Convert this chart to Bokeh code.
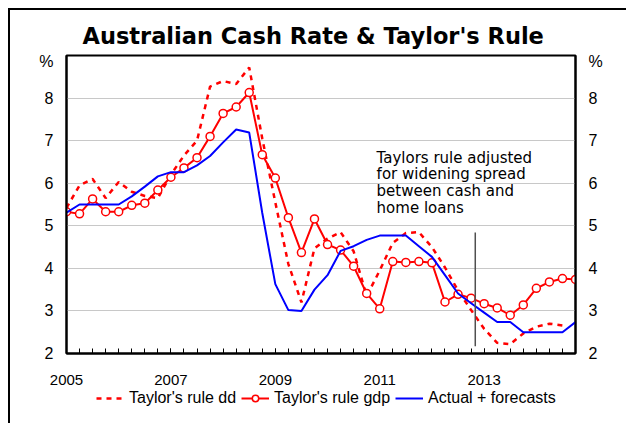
from bokeh.plotting import figure
from bokeh.layouts import column
from bokeh.models import FixedTicker, LinearAxis, Range1d, Label, Legend, LegendItem
from bokeh.embed import file_html
from bokeh.resources import INLINE

title_text = "Australian Cash Rate & Taylor's Rule"
start_year = 2005
quarter_step = 0.25

# quarterly values from 2005 Q1
taylor_dd = [5.42, 5.95, 6.10, 5.65, 6.03, 5.80, 5.70, 5.65, 6.20, 6.65,
             7.00, 8.27, 8.40, 8.33, 8.72, 7.05, 5.55, 4.10, 3.20, 4.47,
             4.70, 4.85, 4.40, 3.35, 3.95, 4.60, 4.83, 4.85, 4.50, 4.02,
             3.48, 3.02, 2.58, 2.25, 2.22, 2.47, 2.63, 2.70, 2.66]
taylor_gdp = [5.33, 5.28, 5.63, 5.33, 5.33, 5.48, 5.53, 5.84, 6.14, 6.36,
              6.60, 7.10, 7.64, 7.79, 8.13, 6.67, 6.12, 5.19, 4.37, 5.16,
              4.56, 4.43, 4.05, 3.41, 3.05, 4.16, 4.14, 4.16, 4.13, 3.21,
              3.39, 3.30, 3.17, 3.07, 2.90, 3.14, 3.53, 3.68, 3.76, 3.74]
actual = [5.31, 5.50, 5.50, 5.50, 5.50, 5.69, 5.92, 6.16, 6.26, 6.26,
          6.42, 6.64, 6.96, 7.26, 7.19, 5.30, 3.63, 3.02, 3.00, 3.50,
          3.84, 4.41, 4.52, 4.67, 4.77, 4.77, 4.77, 4.52, 4.27, 3.84,
          3.41, 3.18, 2.96, 2.74, 2.74, 2.50, 2.50, 2.50, 2.50, 2.74]

x_ticks = [2005, 2007, 2009, 2011, 2013]
y_ticks = [2, 3, 4, 5, 6, 7, 8]
unit_tick = 8.86          # where the "%" unit label sits on each y axis
unit_text = "%"
series_names = ["Taylor's rule dd", "Taylor's rule gdp", "Actual + forecasts"]
note_lines = ["Taylors rule adjusted", "for widening spread",
              "between cash and", "home loans"]
marker_x = 2012.83
marker_y = [2.17, 4.84]

x_all = [start_year + i * quarter_step for i in range(len(actual))]
x_dd = x_all[:len(taylor_dd)]

DD_STYLE = dict(line_color="#ff0000", line_width=2.5, line_dash="5 5")
GDP_STYLE = dict(line_color="#ff0000", line_width=2)
PT_STYLE = dict(marker="circle", size=8, fill_color="white",
                line_color="#ff0000", line_width=1.5)
ACT_STYLE = dict(line_color="#0000ff", line_width=2)

p = figure(frame_width=509, frame_height=298, output_backend="svg",
           toolbar_location=None,
           x_range=Range1d(2005, 2014.75), y_range=Range1d(2, 9),
           min_border_left=56, min_border_right=51, min_border_top=45,
           min_border_bottom=36)

p.title.text = title_text
p.title.text_font = "DejaVu Sans"
p.title.text_font_size = "22.5px"
p.title.text_font_style = "bold"
p.title.text_color = "black"
p.title.align = "left"
p.title.offset = 16
p.title.standoff = 13

p.outline_line_color = "black"
p.outline_line_width = 2
p.background_fill_color = "white"
p.border_fill_color = "white"

p.xgrid.visible = False
p.ygrid.ticker = FixedTicker(ticks=y_ticks)
p.ygrid.grid_line_color = "#c8c8c8"
p.ygrid.grid_line_width = 1

xa = p.xaxis[0]
xa.ticker = FixedTicker(ticks=x_ticks, minor_ticks=x_all)
xa.axis_line_color = "black"
xa.axis_line_width = 2
xa.major_tick_in = 5
xa.major_tick_out = 0
xa.minor_tick_in = 5
xa.minor_tick_out = 0
xa.major_tick_line_color = "black"
xa.minor_tick_line_color = "black"
xa.major_label_text_font = "Liberation Sans"
xa.major_label_text_font_size = "15px"
xa.major_label_text_color = "black"
xa.major_label_standoff = 21


def style_y(ax):
    ax.ticker = FixedTicker(ticks=y_ticks + [unit_tick])
    ax.major_label_overrides = {unit_tick: unit_text}
    ax.axis_line_color = "black"
    ax.axis_line_width = 2
    ax.major_tick_in = 0
    ax.major_tick_out = 0
    ax.minor_tick_line_color = None
    ax.major_label_text_font = "Liberation Sans"
    ax.major_label_text_font_size = "16px"
    ax.major_label_text_color = "black"
    ax.major_label_standoff = 13


style_y(p.yaxis[0])
right_axis = LinearAxis()
style_y(right_axis)
p.add_layout(right_axis, "right")

p.line(x_dd, taylor_dd, **DD_STYLE)
p.line(x_all, taylor_gdp, **GDP_STYLE)
p.scatter(x_all, taylor_gdp, **PT_STYLE)
p.line(x_all, actual, **ACT_STYLE)
p.segment(x0=[marker_x], y0=[marker_y[0]], x1=[marker_x], y1=[marker_y[1]],
          line_color="#505050", line_width=1.5)

note_top = 6.60
note_step = 0.393
for k, line in enumerate(note_lines):
    p.add_layout(Label(x=2010.94, y=note_top - k * note_step, text=line,
                       text_font="DejaVu Sans", text_font_size="15px",
                       text_color="black", text_baseline="alphabetic",
                       text_align="left"))

# legend strip below the chart; its proxies use the same series and styles,
# with ranges that keep the data itself out of view
q = figure(width=616, height=34, output_backend="svg",
           toolbar_location=None, x_axis_type=None, y_axis_type=None,
           x_range=Range1d(0, 1), y_range=Range1d(0, 1),
           min_border=0, min_border_left=0, min_border_right=0,
           min_border_top=0, min_border_bottom=0, title=None)
q.align = "start"
q.outline_line_color = None
q.background_fill_color = "white"
q.border_fill_color = "white"
l_dd = q.line(x_dd, taylor_dd, **DD_STYLE)
l_gdp = q.line(x_all, taylor_gdp, **GDP_STYLE)
l_pts = q.scatter(x_all, taylor_gdp, **PT_STYLE)
l_act = q.line(x_all, actual, **ACT_STYLE)

legend = Legend(items=[
    LegendItem(label=series_names[0], renderers=[l_dd]),
    LegendItem(label=series_names[1], renderers=[l_gdp, l_pts]),
    LegendItem(label=series_names[2], renderers=[l_act]),
], orientation="horizontal", location=(30, 16), padding=0, margin=0,
    spacing=5, glyph_width=28, glyph_height=16, label_standoff=5,
    label_text_font="Liberation Sans", label_text_font_size="16px",
    label_text_color="black", border_line_color=None, background_fill_alpha=0)
q.add_layout(legend, "center")

layout = column(p, q, spacing=0)
layout.styles = {"margin-left": "8px", "margin-top": "8px",
                 "border-left": "2px solid black", "border-top": "2px solid black"}

open("out.html", "w").write(file_html(layout, INLINE))
